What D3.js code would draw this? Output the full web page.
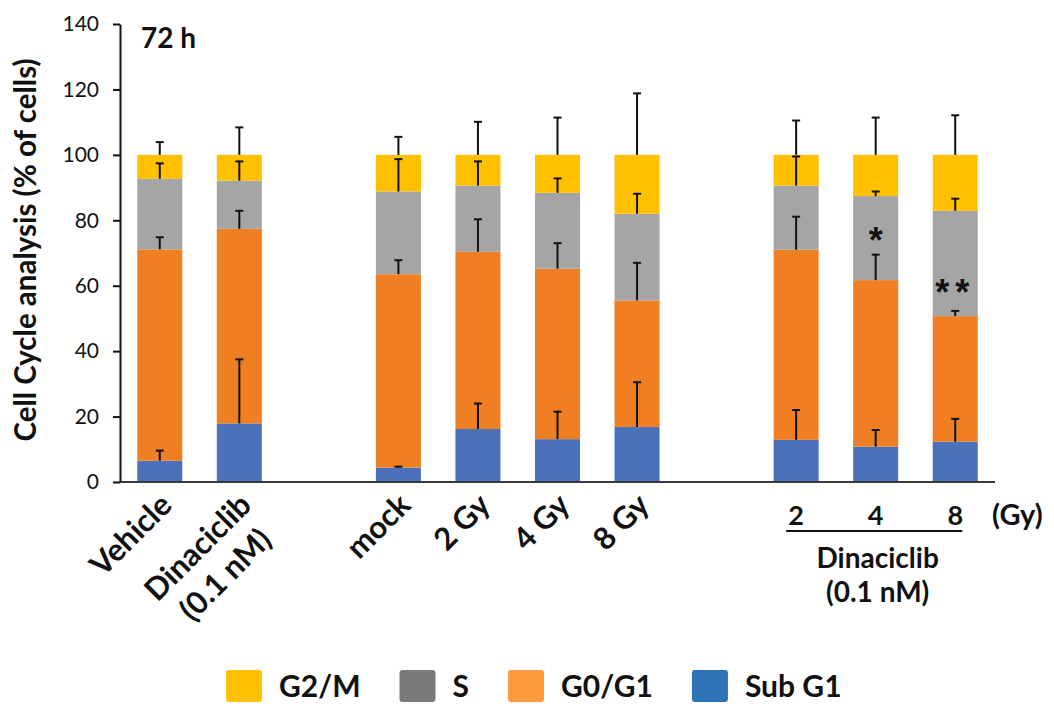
<!DOCTYPE html>
<html>
<head>
<meta charset="utf-8">
<script src="https://cdn.jsdelivr.net/npm/d3@7/dist/d3.min.js"></script>
<style>
  html, body { margin: 0; padding: 0; background: #fff; }
  svg { display: block; font-family: Lato, "Open Sans", sans-serif; font-weight: 700; }
</style>
</head>
<body>
<svg id="chart" width="1054" height="706"></svg>
<script>
// Treatment groups (one stacked bar each) and the slots on the x axis, with two empty spacer slots
const groups = ["Vehicle", "Dinaciclib", "mock", "2 Gy", "4 Gy", "8 Gy", "Dina + 2 Gy", "Dina + 4 Gy", "Dina + 8 Gy"];
const slots = ["Vehicle", "Dinaciclib", "gap-a", "mock", "2 Gy", "4 Gy", "8 Gy", "gap-b", "Dina + 2 Gy", "Dina + 4 Gy", "Dina + 8 Gy"];

// Phase fractions (% of cells) per group
const subG1 = [6.5, 17.9, 4.4, 16.2, 13.1, 16.8, 12.9, 10.8, 12.3];
const g0g1  = [64.6, 59.5, 59.1, 54.2, 52.1, 38.7, 58.1, 50.9, 38.4];
const sPhase = [21.6, 14.7, 25.3, 20.2, 23.2, 26.5, 19.6, 25.7, 32.2];
const g2m   = [7.3, 7.9, 11.2, 9.4, 11.6, 18.0, 9.4, 12.6, 17.1];

// Standard deviations for each phase
const subG1Sd = [3.1, 19.6, 0.3, 7.8, 8.4, 13.7, 9.1, 5.1, 7.0];
const g0g1Sd  = [3.7, 5.5, 4.3, 9.9, 7.8, 11.5, 10.1, 7.8, 1.6];
const sSd     = [4.7, 5.9, 9.9, 7.4, 4.4, 6.1, 8.9, 1.4, 3.7];
const g2mSd   = [3.9, 8.4, 5.5, 10.1, 11.4, 18.8, 10.5, 11.4, 12.1];

// Phase keys (bottom to top), colours of the bars and of the legend swatches
const phases = ["Sub G1", "G0/G1", "S", "G2/M"];
const barColors = ["#4A71BA", "#F07F24", "#A5A5A5", "#FFC000"];
const legendOrder = ["G2/M", "S", "G0/G1", "Sub G1"];
const legendColors = ["#FFC000", "#7A7A7A", "#FF9A3D", "#2E73B5"];

// Axis ticks and category labels
const yTicks = [0, 20, 40, 60, 80, 100, 120, 140];
const rotatedLabels = [
  { group: "Vehicle", lines: ["Vehicle"] },
  { group: "Dinaciclib", lines: ["Dinaciclib", "(0.1 nM)"] },
  { group: "mock", lines: ["mock"] },
  { group: "2 Gy", lines: ["2 Gy"] },
  { group: "4 Gy", lines: ["4 Gy"] },
  { group: "8 Gy", lines: ["8 Gy"] }
];
const doseGroups = ["Dina + 2 Gy", "Dina + 4 Gy", "Dina + 8 Gy"];
const doseLabels = ["2", "4", "8"];
const comboTitle = ["Dinaciclib", "(0.1 nM)"];

// Significance marks placed in the S-phase segment
const sigGroups = ["Dina + 4 Gy", "Dina + 8 Gy"];
const sigMarks = ["*", "**"];
const sigLevel = [77, 61];

const phaseValues = [subG1, g0g1, sPhase, g2m];
const phaseSds = [subG1Sd, g0g1Sd, sSd, g2mSd];

const rows = groups.map((g, i) => {
  const r = { group: g };
  phases.forEach((p, k) => { r[p] = phaseValues[k][i]; });
  return r;
});

const svg = d3.select("#chart");

const x = d3.scaleBand().domain(slots).range([120, 995]).paddingInner(0.434).paddingOuter(0.217);
const y = d3.scaleLinear().domain([0, 140]).range([482, 24]);
const cx = g => x(g) + x.bandwidth() / 2;

const stacked = d3.stack().keys(phases)(rows);

// Stacked bars
svg.append("g").selectAll("g")
  .data(stacked)
  .join("g")
  .attr("fill", (d, k) => barColors[k])
  .selectAll("rect")
  .data(d => d)
  .join("rect")
  .attr("x", d => x(d.data.group))
  .attr("width", x.bandwidth())
  .attr("y", d => y(d[1]))
  .attr("height", d => y(d[0]) - y(d[1]));

// Error bars: upward whisker from the top of each segment
const errs = [];
stacked.forEach((layer, k) => {
  layer.forEach((d, i) => {
    errs.push({ group: d.data.group, top: d[1], sd: phaseSds[k][i] });
  });
});
const eg = svg.append("g").attr("stroke", "#111").attr("stroke-width", 2);
eg.selectAll("line.stem").data(errs).join("line")
  .attr("class", "stem")
  .attr("x1", d => cx(d.group)).attr("x2", d => cx(d.group))
  .attr("y1", d => y(d.top)).attr("y2", d => y(d.top + d.sd));
eg.selectAll("line.cap").data(errs).join("line")
  .attr("class", "cap")
  .attr("x1", d => cx(d.group) - 4).attr("x2", d => cx(d.group) + 4)
  .attr("y1", d => y(d.top + d.sd)).attr("y2", d => y(d.top + d.sd));

// Significance asterisks
svg.append("g").selectAll("text")
  .data(sigGroups)
  .join("text")
  .attr("x", g => cx(g))
  .attr("y", (g, i) => y(sigLevel[i]) + 23)
  .attr("text-anchor", "middle")
  .style("font-family", "'Liberation Sans', Arial, sans-serif")
  .style("font-size", "36px")
  .style("letter-spacing", (g, i) => sigMarks[i].length > 1 ? "6px" : "0px")
  .attr("fill", "#111")
  .text((g, i) => sigMarks[i]);

// X axis baseline
svg.append("line")
  .attr("x1", x.range()[0]).attr("x2", x.range()[1])
  .attr("y1", y(0)).attr("y2", y(0))
  .attr("stroke", "#3a3a3a").attr("stroke-width", 2);

// Y axis
const yAxis = svg.append("g")
  .attr("transform", `translate(${x.range()[0]},0)`)
  .call(d3.axisLeft(y).tickValues(yTicks).tickSize(7).tickSizeOuter(0).tickPadding(14));
yAxis.select(".domain").attr("stroke", "#111").attr("stroke-width", 2);
yAxis.selectAll(".tick line").attr("stroke", "#111").attr("stroke-width", 2);
yAxis.selectAll(".tick text")
  .attr("fill", "#111")
  .style("font-family", "Lato, sans-serif")
  .style("font-weight", 400)
  .style("font-size", "21px");

// Y axis title
svg.append("text")
  .attr("transform", `translate(36,${(y(0) + y(140)) / 2 - 3}) rotate(-90)`)
  .attr("text-anchor", "middle")
  .style("font-size", "29.5px")
  .attr("fill", "#111")
  .text("Cell Cycle analysis (% of cells)");

// Panel time point
svg.append("text")
  .attr("x", x.range()[0] + 21).attr("y", 48)
  .style("font-size", "28px")
  .attr("fill", "#111")
  .text("72 h");

// Rotated category labels under the single-treatment bars
const labelFont = 31;
const lg = svg.append("g").selectAll("g")
  .data(rotatedLabels)
  .join("g")
  .attr("transform", d => `translate(${cx(d.group) + 14},${y(0) + 25}) rotate(-45)`);
lg.each(function (d) {
  const g = d3.select(this);
  const first = g.append("text")
    .attr("text-anchor", "end")
    .style("font-size", labelFont + "px")
    .attr("fill", "#111")
    .text(d.lines[0]);
  const w = first.node().getComputedTextLength();
  d.lines.slice(1).forEach((line, j) => {
    g.append("text")
      .attr("x", -w / 2)
      .attr("y", (j + 1) * labelFont * 1.25)
      .attr("text-anchor", "middle")
      .style("font-size", labelFont + "px")
      .attr("fill", "#111")
      .text(line);
  });
});

// Dose labels for the combination bars, underline, unit and drug name
svg.append("g").selectAll("text")
  .data(doseGroups)
  .join("text")
  .attr("x", g => cx(g))
  .attr("y", 525)
  .attr("text-anchor", "middle")
  .style("font-size", "27px")
  .attr("fill", "#111")
  .text((g, i) => doseLabels[i]);

svg.append("line")
  .attr("x1", cx(doseGroups[0]) - 10).attr("x2", cx(doseGroups[2]) + 7)
  .attr("y1", 531).attr("y2", 531)
  .attr("stroke", "#111").attr("stroke-width", 2);

svg.append("text")
  .attr("x", x.range()[1] - 3).attr("y", 525)
  .style("font-size", "29px")
  .attr("fill", "#111")
  .text("(Gy)");

svg.append("g").selectAll("text")
  .data(comboTitle)
  .join("text")
  .attr("x", cx(doseGroups[1]) + 2)
  .attr("y", (d, i) => 568 + i * 34)
  .attr("text-anchor", "middle")
  .style("font-size", "28px")
  .attr("fill", "#111")
  .text(d => d);

// Legend
const legend = svg.append("g").attr("transform", "translate(0,670)");
let lx = 226;
legendOrder.forEach((name, i) => {
  legend.append("rect")
    .attr("x", lx).attr("y", 0)
    .attr("width", 36).attr("height", 32)
    .attr("rx", 3)
    .attr("fill", legendColors[i]);
  const t = legend.append("text")
    .attr("x", lx + 53).attr("y", 27)
    .style("font-size", "30px")
    .attr("fill", "#111")
    .text(name);
  lx += 53 + t.node().getComputedTextLength() + 39;
});
</script>
</body>
</html>
